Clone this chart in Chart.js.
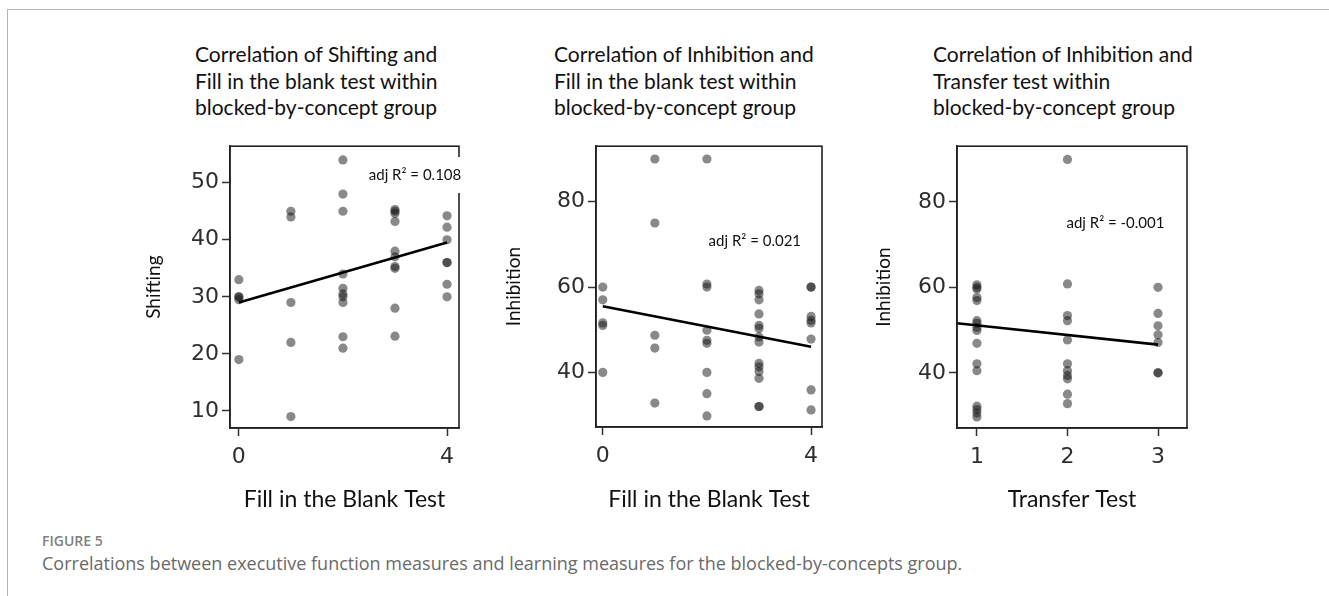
<!DOCTYPE html>
<html>
<head>
<meta charset="utf-8">
<script src="https://cdn.jsdelivr.net/npm/chart.js@4.4.1/dist/chart.umd.min.js"></script>
<style>
  html, body { margin: 0; padding: 0; background: #fff; }
  body { width: 1329px; height: 596px; position: relative; overflow: hidden; }
  .frame { position: absolute; left: 7px; top: 9px; right: -2px; bottom: -2px;
           border-left: 1.5px solid #b5b5b5; border-top: 1.5px solid #b5b5b5; }
  .title { position: absolute; top: 41px; font-family: Lato, "Open Sans", sans-serif;
           font-size: 21px; line-height: 26.5px; color: #111; white-space: nowrap; }
  .box { position: absolute; top: 130px; width: 360px; height: 390px; }
  .figlabel { position: absolute; left: 42px; top: 531px; font-family: "Open Sans", sans-serif;
              font-size: 14px; font-weight: 600; color: #808080; }
  .caption { position: absolute; left: 42px; top: 551px; font-family: "Open Sans", sans-serif;
             font-size: 18px; color: #6a6a6a; white-space: nowrap; }
</style>
</head>
<body>
<div class="frame"></div>

<div class="title" style="left:195px">Correlation of Shifting and<br>Fill in the blank test within<br>blocked-by-concept group</div>
<div class="title" style="left:554px">Correlation of Inhibition and<br>Fill in the blank test within<br>blocked-by-concept group</div>
<div class="title" style="left:933px">Correlation of Inhibition and<br>Transfer test within<br>blocked-by-concept group</div>

<div class="box" style="left:130px"><canvas id="chart1"></canvas></div>
<div class="box" style="left:490px"><canvas id="chart2"></canvas></div>
<div class="box" style="left:860px"><canvas id="chart3"></canvas></div>

<div class="figlabel">FIGURE 5</div>
<div class="caption">Correlations between executive function measures and learning measures for the blocked-by-concepts group.</div>

<script>
// Panel 1: Shifting vs Fill in the Blank Test
const fillScore1 = [0, 0, 0, 0, 0,
                    1, 1, 1, 1, 1,
                    2, 2, 2, 2, 2, 2, 2, 2, 2, 2,
                    3, 3, 3, 3, 3, 3, 3, 3, 3, 3,
                    4, 4, 4, 4, 4, 4, 4];
const shifting = [33, 30, 30, 29.5, 19,
                  45, 44, 29, 22, 9,
                  54, 48, 45, 34, 31.5, 30.5, 30, 29, 23, 21,
                  45.3, 45, 44.6, 43.2, 38, 37, 35.3, 35, 28, 23.1,
                  44.2, 42.2, 40, 36, 36, 32.2, 30];
const fitX1 = [0, 4];
const fitY1 = [29, 39.5];

// Panel 2: Inhibition vs Fill in the Blank Test
const fillScore2 = [0, 0, 0, 0, 0,
                    1, 1, 1, 1, 1,
                    2, 2, 2, 2, 2, 2, 2, 2, 2,
                    3, 3, 3, 3, 3, 3, 3, 3, 3, 3, 3, 3, 3, 3,
                    4, 4, 4, 4, 4, 4, 4, 4];
const inhibition2 = [60, 57, 51.6, 51, 40,
                     90, 75, 48.7, 45.7, 32.8,
                     90, 60.7, 60, 49.9, 47.5, 46.8, 40, 35, 29.8,
                     59.2, 58.4, 57, 53.7, 51, 50.3, 48.3, 47.1, 42.1, 41.3, 40.2, 38.6, 32, 32,
                     60, 60, 53.1, 52.2, 51.6, 47.8, 35.9, 31.2];
const fitX2 = [0, 4];
const fitY2 = [55.5, 46];

// Panel 3: Inhibition vs Transfer Test
const transferScore = [1, 1, 1, 1, 1, 1, 1, 1, 1, 1, 1, 1, 1, 1, 1, 1,
                       2, 2, 2, 2, 2, 2, 2, 2, 2, 2, 2,
                       3, 3, 3, 3, 3, 3, 3];
const inhibition3 = [60.6, 60, 59.6, 57.6, 56.9, 52.2, 51.6, 50.6, 49.9, 46.9, 42.1, 40.5, 32.2, 31.4, 30.6, 29.7,
                     89.9, 60.8, 53.4, 52.2, 47.7, 42.1, 40.5, 39.4, 38.6, 35, 32.8,
                     60, 53.9, 51, 48.9, 47.1, 40, 40];
const fitX3 = [0.78, 3];
const fitY3 = [51.6, 46.6];

// tick labels
const xTicksFill = [0, 4];
const xTicksTransfer = [1, 2, 3];
const yTicksShifting = [10, 20, 30, 40, 50];
const yTicksInhibition = [40, 60, 80];

const adjR2 = ['adj R\u00B2 = 0.108', 'adj R\u00B2 = 0.021', 'adj R\u00B2 = -0.001'];

const toPoints = (xs, ys) => xs.map((x, i) => ({ x: x, y: ys[i] }));

// frame around the plot area + the adj R2 text
const boxPlugin = {
  id: 'boxAndNote',
  afterDatasetsDraw(chart, args, opts) {
    const { ctx, chartArea: a, scales } = chart;
    ctx.save();
    ctx.strokeStyle = '#222';
    ctx.lineWidth = 1.6;
    ctx.strokeRect(a.left, a.top, a.right - a.left, a.bottom - a.top);
    const px = scales.x.getPixelForValue(opts.x);
    const py = scales.y.getPixelForValue(opts.y);
    ctx.font = '15px Lato, "Open Sans", sans-serif';
    ctx.textAlign = 'center';
    ctx.textBaseline = 'middle';
    const w = ctx.measureText(opts.text).width;
    ctx.fillStyle = '#fff';
    ctx.fillRect(px - w / 2 - 3, py - 18, w + 6, 36);
    ctx.fillStyle = '#111';
    ctx.fillText(opts.text, px, py);
    ctx.restore();
  }
};

function makePanel(id, cfg) {
  new Chart(document.getElementById(id), {
    type: 'scatter',
    data: {
      datasets: [{
        data: toPoints(cfg.xs, cfg.ys),
        backgroundColor: 'rgba(20,20,20,0.5)',
        borderWidth: 0,
        pointRadius: 4.6,
        order: 2
      }, {
        type: 'line',
        data: toPoints(cfg.fitX, cfg.fitY),
        showLine: true,
        borderColor: '#000',
        borderWidth: 2.6,
        pointRadius: 0,
        fill: false,
        order: 1
      }]
    },
    options: {
      responsive: true,
      maintainAspectRatio: false,
      animation: false,
      layout: { padding: { top: 15, right: cfg.padRight, left: 0, bottom: 0 } },
      plugins: {
        legend: { display: false },
        tooltip: { enabled: false },
        boxAndNote: cfg.note
      },
      scales: {
        x: {
          type: 'linear',
          min: cfg.xMin,
          max: cfg.xMax,
          afterBuildTicks: axis => { axis.ticks = cfg.xTicks.map(v => ({ value: v })); },
          afterFit: axis => { axis.height = cfg.xHeight; },
          grid: { drawOnChartArea: false, drawTicks: true, tickLength: 8, color: '#333', tickWidth: 1.5 },
          border: { display: true, color: '#222', width: 1.6 },
          ticks: { color: '#2e2e2e', padding: 8, font: { family: '"DejaVu Sans", sans-serif', size: 22 } },
          title: {
            display: true,
            text: cfg.xTitle,
            color: '#111',
            padding: { top: 4, bottom: 7 },
            font: { family: 'Lato, "Open Sans", sans-serif', size: 23 }
          }
        },
        y: {
          type: 'linear',
          min: cfg.yMin,
          max: cfg.yMax,
          afterBuildTicks: axis => { axis.ticks = cfg.yTicks.map(v => ({ value: v })); },
          afterFit: axis => { axis.width = cfg.yWidth; },
          grid: { drawOnChartArea: false, drawTicks: true, tickLength: 8, color: '#333', tickWidth: 1.5 },
          border: { display: true, color: '#222', width: 1.6 },
          ticks: { color: '#2e2e2e', padding: 3, font: { family: '"DejaVu Sans", sans-serif', size: 22 } },
          title: {
            display: true,
            text: cfg.yTitle,
            color: '#111',
            padding: { top: 12, bottom: 4 },
            font: { family: 'Lato, "Open Sans", sans-serif', size: 19 }
          }
        }
      }
    },
    plugins: [boxPlugin]
  });
}

makePanel('chart1', {
  xs: fillScore1, ys: shifting, fitX: fitX1, fitY: fitY1,
  xMin: -0.17, xMax: 4.23, yMin: 7, yMax: 56.4,
  xTicks: xTicksFill, yTicks: yTicksShifting,
  xTitle: 'Fill in the Blank Test', yTitle: 'Shifting',
  yWidth: 100, xHeight: 92, padRight: 31,
  note: { text: adjR2[0], x: 3.385, y: 51.35 }
});

makePanel('chart2', {
  xs: fillScore2, ys: inhibition2, fitX: fitX2, fitY: fitY2,
  xMin: -0.13, xMax: 4.21, yMin: 27.2, yMax: 93,
  xTicks: xTicksFill, yTicks: yTicksInhibition,
  xTitle: 'Fill in the Blank Test', yTitle: 'Inhibition',
  yWidth: 106, xHeight: 93, padRight: 28,
  note: { text: adjR2[1], x: 2.92, y: 70.8 }
});

makePanel('chart3', {
  xs: transferScore, ys: inhibition3, fitX: fitX3, fitY: fitY3,
  xMin: 0.78, xMax: 3.32, yMin: 27.1, yMax: 93,
  xTicks: xTicksTransfer, yTicks: yTicksInhibition,
  xTitle: 'Transfer Test', yTitle: 'Inhibition',
  yWidth: 97, xHeight: 92, padRight: 33,
  note: { text: adjR2[2], x: 2.53, y: 75 }
});
</script>
</body>
</html>
